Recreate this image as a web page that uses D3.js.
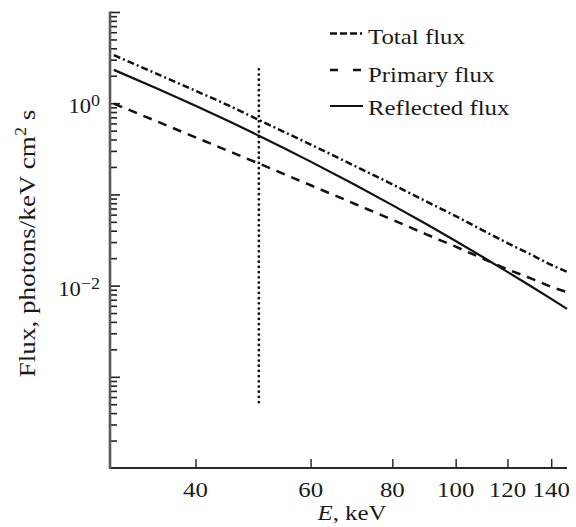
<!DOCTYPE html>
<html>
<head>
<meta charset="utf-8">
<script src="https://cdn.jsdelivr.net/npm/d3@7"></script>
<style>
  html, body { margin: 0; padding: 0; background: #fff; }
  svg { display: block; }
  text { font-family: "Liberation Serif", "Times New Roman", serif; fill: #1a1a1a; }
</style>
</head>
<body>
<svg id="chart" width="576" height="527"></svg>
<script>
// ---- data ----
const energies      = [30, 35, 40, 45, 50, 60, 70, 80, 90, 100, 110, 120, 130, 140, 148];
const totalFlux     = [3.36, 2.08, 1.37, 0.94, 0.655, 0.352, 0.206, 0.129, 0.0843, 0.0578, 0.0404, 0.0293, 0.0221, 0.0169, 0.0142];
const primaryFlux   = [0.99, 0.627, 0.422, 0.298, 0.218, 0.126, 0.079, 0.0527, 0.0367, 0.0267, 0.0198, 0.0151, 0.0121, 0.0097, 0.0085];
const reflectedFlux = [2.32, 1.443, 0.939, 0.633, 0.440, 0.2288, 0.1283, 0.0763, 0.0476, 0.0308, 0.0206, 0.01415, 0.00996, 0.00715, 0.00556];
const seriesNames   = ["Total flux", "Primary flux", "Reflected flux"];
const xTickValues   = [40, 60, 80, 100, 120, 140];
const yMajorValues  = [1e-3, 1e-2, 1e-1, 1e0, 1e1];
const yLabelValues  = [1e0, 1e-2];
const yLabelExps    = ["0", "\u22122"];
const markerEnergy  = 50;
const markerFlux    = [5e-4, 2.35];

// ---- layout ----
const svg = d3.select("#chart");
const x = d3.scaleLog().domain([29.6, 148]).range([110, 567]);
const y = d3.scaleLog().domain([1e-4, 10]).range([468, 12]);
const SX = 1.13; // horizontal stretch of the typeface

function stretchedText(px, py, str, size, anchor, rotate) {
  const g = svg.append("g")
    .attr("transform", `translate(${px},${py})` + (rotate ? ` rotate(${rotate})` : "") + ` scale(${SX},1)`);
  return g.append("text").attr("x", 0).attr("y", 0)
    .attr("font-size", size).attr("text-anchor", anchor || "start").text(str);
}

// ---- y axis (minor + major ticks, inside) ----
const yMinor = [];
for (let e = -4; e <= 0; e++) for (let m = 2; m <= 9; m++) yMinor.push(m * Math.pow(10, e));

const yAxisMinor = d3.axisRight(y).tickValues(yMinor).tickSize(7).tickFormat("");
const yAxisMajor = d3.axisRight(y).tickValues(yMajorValues).tickSize(10).tickFormat("");
const gyMinor = svg.append("g").attr("transform", "translate(110,0)").call(yAxisMinor);
const gyMajor = svg.append("g").attr("transform", "translate(110,0)").call(yAxisMajor);
[gyMinor, gyMajor].forEach(g => {
  g.select(".domain").remove();
  g.selectAll("line").attr("stroke", "#222").attr("stroke-width", 1.6);
});

// ---- x axis (ticks inside, upward) ----
const xAxis = d3.axisTop(x).tickValues(xTickValues).tickSize(9).tickFormat("");
const gx = svg.append("g").attr("transform", "translate(0,468)").call(xAxis);
gx.select(".domain").remove();
gx.selectAll("line").attr("stroke", "#222").attr("stroke-width", 1.4);

// axis lines
svg.append("line").attr("x1", 110).attr("x2", 567).attr("y1", 468).attr("y2", 468)
  .attr("stroke", "#2a2a2a").attr("stroke-width", 2);
svg.append("line").attr("x1", 110).attr("x2", 110).attr("y1", 11.5).attr("y2", 469)
  .attr("stroke", "#5a5a5a").attr("stroke-width", 2.6);

// x tick labels
xTickValues.forEach(v => stretchedText(x(v), 497, String(v), 22, "middle"));

// y tick labels
yLabelValues.forEach((v, i) => {
  const t = stretchedText(100, y(v) + 10, null, 20, "end");
  t.append("tspan").text("10");
  t.append("tspan").attr("dy", -7).attr("font-size", 16).text(yLabelExps[i]);
});

// axis titles
const xt = stretchedText(352, 520, null, 22, "middle");
xt.append("tspan").attr("font-style", "italic").text("E");
xt.append("tspan").text(", keV");

const yt = stretchedText(35, 243.5, null, 24, "middle", -90);
yt.append("tspan").text("Flux, photons/keV cm");
yt.append("tspan").attr("dy", -9).attr("font-size", 16).text("2");
yt.append("tspan").attr("dy", 9).text(" s");

// ---- curves ----
const line = d3.line().x(d => x(d[0])).y(d => y(d[1])).curve(d3.curveMonotoneX);
const styles = [
  { data: totalFlux,     dash: "7,3,2,3", width: 2.5 },
  { data: primaryFlux,   dash: "9,7",     width: 2.5 },
  { data: reflectedFlux, dash: null,      width: 2.2 }
];
styles.forEach(s => {
  svg.append("path")
    .datum(energies.map((e, i) => [e, s.data[i]]))
    .attr("d", line)
    .attr("fill", "none")
    .attr("stroke", "#111")
    .attr("stroke-width", s.width)
    .attr("stroke-dasharray", s.dash);
});

// vertical dotted marker at 50 keV
svg.append("line")
  .attr("x1", x(markerEnergy)).attr("x2", x(markerEnergy))
  .attr("y1", y(markerFlux[1])).attr("y2", y(markerFlux[0]))
  .attr("stroke", "#111").attr("stroke-width", 2.8)
  .attr("stroke-linecap", "round").attr("stroke-dasharray", "0,5.2");

// ---- legend ----
const legendRows = [
  { sampleY: 33.5, textY: 43.5, dash: "7,3,7,3,7,3,2,20", width: 2.5 },
  { sampleY: 70,   textY: 81.5, dash: "8,15",            width: 2.5 },
  { sampleY: 106,  textY: 115,  dash: null,              width: 2.2 }
];
legendRows.forEach((r, i) => {
  svg.append("line").attr("x1", 330).attr("x2", 363).attr("y1", r.sampleY).attr("y2", r.sampleY)
    .attr("stroke", "#111").attr("stroke-width", r.width).attr("stroke-dasharray", r.dash);
  stretchedText(368, r.textY, seriesNames[i], 22, "start");
});
</script>
</body>
</html>
